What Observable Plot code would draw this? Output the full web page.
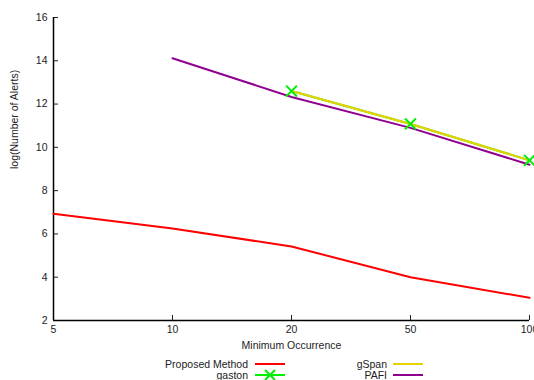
<!DOCTYPE html>
<html>
<head>
<meta charset="utf-8">
<script src="https://cdn.jsdelivr.net/npm/d3@7"></script>
<script src="https://cdn.jsdelivr.net/npm/@observablehq/plot@0.6"></script>
<style>
  html, body { margin: 0; padding: 0; background: #fff; overflow: hidden; }
  #chart { position: relative; width: 534px; height: 380px; font-family: "Liberation Sans", Arial, sans-serif; }
  #chart svg { display: block; }
  .legend { position: absolute; left: 0; top: 0; width: 534px; height: 380px; font-size: 10.5px; color: #222; }
  .legend .row { position: absolute; height: 12px; white-space: nowrap; }
  .legend .lab { position: absolute; right: 0; top: 0; line-height: 12px; }
  .legend svg { position: absolute; }
</style>
</head>
<body>
<div id="chart"></div>
<script>
// Minimum occurrence thresholds (categorical axis)
const minOccurrence = ["5", "10", "20", "50", "100"];

// log(number of alerts) per method
const proposed = [6.93, 6.25, 5.42, 4.0, 3.05];
const gaston   = [null, null, 12.6, 11.08, 9.4];
const gspan    = [null, null, 12.6, 11.08, 9.4];
const pafi     = [null, 14.12, 12.33, 10.9, 9.2];

const yTicks = [2, 4, 6, 8, 10, 12, 14, 16];

const seriesNames  = ["Proposed Method", "gaston", "gSpan", "PAFI"];
const seriesColors = ["#ff0000", "#00ee00", "#ead000", "#900090"];

const toRows = (vals, name) =>
  minOccurrence.map((x, i) => ({x, y: vals[i], name})).filter(d => d.y != null);

const rows = [
  ...toRows(proposed, "Proposed Method"),
  ...toRows(gaston, "gaston"),
  ...toRows(gspan, "gSpan"),
  ...toRows(pafi, "PAFI")
];
const gastonRows = toRows(gaston, "gaston");

const chart = Plot.plot({
  width: 534,
  height: 380,
  marginLeft: 53,
  marginRight: 5,
  marginTop: 17,
  marginBottom: 60,
  style: {fontFamily: "Liberation Sans, Arial, sans-serif", fontSize: "10.5px", color: "#222", overflow: "hidden"},
  x: {type: "point", domain: minOccurrence, padding: 0},
  y: {domain: [2, 16]},
  color: {domain: seriesNames, range: seriesColors},
  marks: [
    Plot.axisY(yTicks, {tickSize: -5, tickPadding: 11, label: null, fontSize: 10.5}),
    Plot.axisX(minOccurrence, {tickSize: -5, tickPadding: 10, label: null, fontSize: 10.5}),
    Plot.text(["log(Number of Alerts)"], {frameAnchor: "left", dx: -39, rotate: -90, fontSize: 10.5}),
    Plot.text(["Minimum Occurrence"], {frameAnchor: "bottom", dy: 28, fontSize: 10.5}),
    Plot.ruleX([minOccurrence[0]], {y1: 2, y2: 16, stroke: "#000", strokeWidth: 1.5}),
    Plot.ruleY([2], {stroke: "#000", strokeWidth: 1.5}),
    Plot.line(rows, {x: "x", y: "y", z: "name", stroke: "name", strokeWidth: 2}),
    Plot.dot(gastonRows, {x: "x", y: "y", symbol: "times", r: 5, stroke: seriesColors[1], strokeWidth: 2})
  ]
});

const root = document.getElementById("chart");
root.appendChild(chart);

// Legend below the plot: two columns, label right-aligned before its sample
const legend = document.createElement("div");
legend.className = "legend";
root.appendChild(legend);
const slots = [
  {name: "Proposed Method", right: 248, sample: 255, top: 358},
  {name: "gaston",          right: 248, sample: 255, top: 369},
  {name: "gSpan",           right: 387, sample: 393, top: 358},
  {name: "PAFI",            right: 387, sample: 393, top: 369}
];
slots.forEach(s => {
  const i = seriesNames.indexOf(s.name);
  const row = document.createElement("div");
  row.className = "row";
  row.style.left = "0px";
  row.style.top = s.top + "px";
  row.style.width = s.right + "px";
  const lab = document.createElement("span");
  lab.className = "lab";
  lab.textContent = s.name;
  row.appendChild(lab);
  legend.appendChild(row);
  const svg = d3.select(legend).append("svg")
    .attr("width", 32).attr("height", 12)
    .style("left", s.sample + "px").style("top", s.top + "px");
  svg.append("line").attr("x1", 0).attr("x2", 30).attr("y1", 6).attr("y2", 6)
    .attr("stroke", seriesColors[i]).attr("stroke-width", 2);
  if (s.name === "gaston") {
    svg.append("path").attr("d", "M10,1L20,11M20,1L10,11")
      .attr("stroke", seriesColors[i]).attr("stroke-width", 2);
  }
});
</script>
</body>
</html>
